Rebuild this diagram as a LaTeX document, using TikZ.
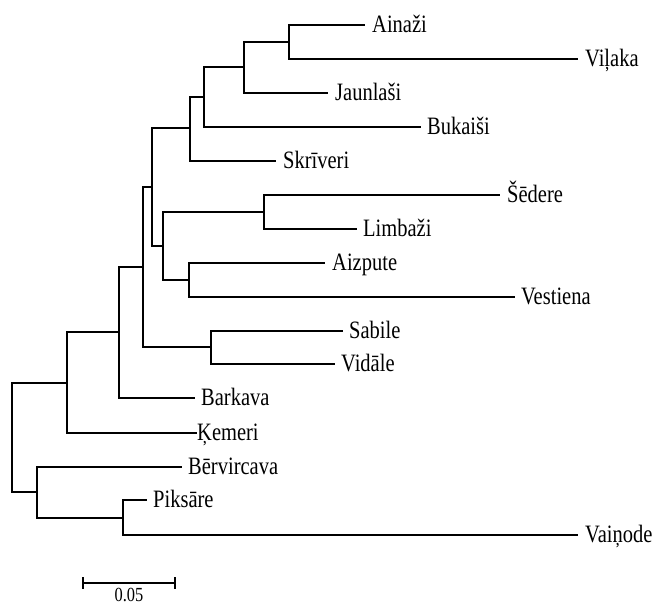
\documentclass[tikz,border=0pt]{standalone}
\usepackage{fontspec}
\setmainfont{Liberation Serif}[FakeStretch=0.82]
\begin{document}
\begin{tikzpicture}[x=1pt,y=-1pt,
  br/.style={line width=2.2pt, line join=miter},
  lab/.style={anchor=base west, inner sep=0pt, font=\fontsize{25}{25}\selectfont},
  sclab/.style={anchor=base, inner sep=0pt, font=\fontsize{20}{20}\selectfont}]
\useasboundingbox (0,0) rectangle (670,605);
% internal nodes
\coordinate (nAV) at (289,42);
\coordinate (nAVJ) at (244,67);
\coordinate (nAVJB) at (204,97);
\coordinate (nSk) at (190,128);
\coordinate (nSL) at (264,212);
\coordinate (nAzV) at (189,280);
\coordinate (nSLAV) at (163,246);
\coordinate (n152) at (152,187);
\coordinate (nSV) at (211,347);
\coordinate (n143) at (143,267);
\coordinate (n119) at (119,332);
\coordinate (n67) at (67,383);
\coordinate (nPV) at (123,518);
\coordinate (n37) at (37,492);
\coordinate (root) at (12,437);
% leaf line ends
\coordinate (lAin) at (365,25);
\coordinate (lVil) at (578,59);
\coordinate (lJau) at (328,93);
\coordinate (lBuk) at (421,127);
\coordinate (lSkr) at (276,161);
\coordinate (lSed) at (500,195);
\coordinate (lLim) at (357,229);
\coordinate (lAiz) at (325,263);
\coordinate (lVes) at (515,297);
\coordinate (lSab) at (343,331);
\coordinate (lVid) at (335,364);
\coordinate (lBar) at (195,398);
\coordinate (lKem) at (197,433);
\coordinate (lBer) at (182,467);
\coordinate (lPik) at (147,500);
\coordinate (lVai) at (578,535);
% labels
\node[lab] (tAin) at ([xshift=7pt,yshift=-7pt]lAin) {Ainaži};
\node[lab] (tVil) at ([xshift=7pt,yshift=-7pt]lVil) {Viļaka};
\node[lab] (tJau) at ([xshift=7pt,yshift=-7pt]lJau) {Jaunlaši};
\node[lab] (tBuk) at ([xshift=6pt,yshift=-7pt]lBuk) {Bukaiši};
\node[lab] (tSkr) at ([xshift=7pt,yshift=-7pt]lSkr) {Skrīveri};
\node[lab] (tSed) at ([xshift=7pt,yshift=-7pt]lSed) {Šēdere};
\node[lab] (tLim) at ([xshift=6pt,yshift=-7pt]lLim) {Limbaži};
\node[lab] (tAiz) at ([xshift=7pt,yshift=-7pt]lAiz) {Aizpute};
\node[lab] (tVes) at ([xshift=6pt,yshift=-7pt]lVes) {Vestiena};
\node[lab] (tSab) at ([xshift=6pt,yshift=-7pt]lSab) {Sabile};
\node[lab] (tVid) at ([xshift=6pt,yshift=-7pt]lVid) {Vidāle};
\node[lab] (tBar) at ([xshift=6pt,yshift=-7pt]lBar) {Barkava};
\node[lab] (tKem) at ([xshift=0pt,yshift=-7pt]lKem) {Ķemeri};
\node[lab] (tBer) at ([xshift=6pt,yshift=-7pt]lBer) {Bērvircava};
\node[lab] (tPik) at ([xshift=6pt,yshift=-7pt]lPik) {Piksāre};
\node[lab] (tVai) at ([xshift=7pt,yshift=-7pt]lVai) {Vaiņode};
% branches
\draw[br] (nAV) |- (lAin);
\draw[br] (nAV) |- (lVil);
\draw[br] (nAVJ) |- (nAV);
\draw[br] (nAVJ) |- (lJau);
\draw[br] (nAVJB) |- (nAVJ);
\draw[br] (nAVJB) |- (lBuk);
\draw[br] (nSk) |- (nAVJB);
\draw[br] (nSk) |- (lSkr);
\draw[br] (nSL) |- (lSed);
\draw[br] (nSL) |- (lLim);
\draw[br] (nAzV) |- (lAiz);
\draw[br] (nAzV) |- (lVes);
\draw[br] (nSLAV) |- (nSL);
\draw[br] (nSLAV) |- (nAzV);
\draw[br] (n152) |- (nSk);
\draw[br] (n152) |- (nSLAV);
\draw[br] (nSV) |- (lSab);
\draw[br] (nSV) |- (lVid);
\draw[br] (n143) |- (n152);
\draw[br] (n143) |- (nSV);
\draw[br] (n119) |- (n143);
\draw[br] (n119) |- (lBar);
\draw[br] (n67) |- (n119);
\draw[br] (n67) |- (lKem);
\draw[br] (nPV) |- (lPik);
\draw[br] (nPV) |- (lVai);
\draw[br] (n37) |- (lBer);
\draw[br] (n37) |- (nPV);
\draw[br] (root) |- (n67);
\draw[br] (root) |- (n37);
% scale bar
\coordinate (sbL) at (83,583);
\coordinate (sbR) at (175,583);
\draw[br] (sbL) -- (sbR);
\draw[br] ([yshift=6pt]sbL) -- ([yshift=-6pt]sbL);
\draw[br] ([yshift=6pt]sbR) -- ([yshift=-6pt]sbR);
\node[sclab] (sbT) at (129,601) {0.05};
\end{tikzpicture}
\end{document}
